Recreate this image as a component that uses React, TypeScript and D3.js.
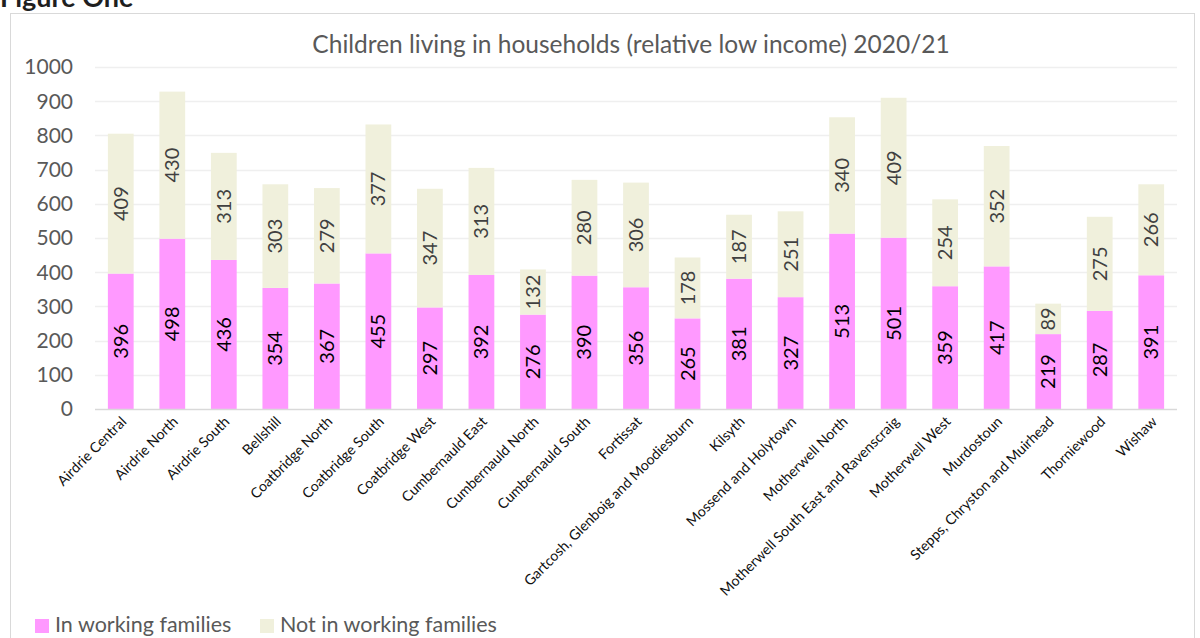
import React, { useEffect, useRef } from "react";
import * as d3 from "d3";

const categories = [
  "Airdrie Central", "Airdrie North", "Airdrie South", "Bellshill", "Coatbridge North",
  "Coatbridge South", "Coatbridge West", "Cumbernauld East", "Cumbernauld North",
  "Cumbernauld South", "Fortissat", "Gartcosh, Glenboig and Moodiesburn", "Kilsyth",
  "Mossend and Holytown", "Motherwell North", "Motherwell South East and Ravenscraig",
  "Motherwell West", "Murdostoun", "Stepps, Chryston and Muirhead", "Thorniewood", "Wishaw",
];
const inWorking = [396, 498, 436, 354, 367, 455, 297, 392, 276, 390, 356, 265, 381, 327, 513, 501, 359, 417, 219, 287, 391];
const notInWorking = [409, 430, 313, 303, 279, 377, 347, 313, 132, 280, 306, 178, 187, 251, 340, 409, 254, 352, 89, 275, 266];
const seriesNames = ["In working families", "Not in working families"];
const yTicks = [0, 100, 200, 300, 400, 500, 600, 700, 800, 900, 1000];
const title = "Children living in households (relative low income) 2020/21";

const W = 1200, H = 638;
const FONT = "Lato, 'Open Sans', sans-serif";
const colors = ["#FF99FF", "#F0F0DC"];
const labelColors = ["#000000", "#404040"];

export default function App() {
  const ref = useRef<SVGSVGElement | null>(null);
  useEffect(() => {
    document.body.style.margin = "0";
    const svg = d3.select(ref.current);
    svg.selectAll("*").remove();

    const x = d3.scaleBand().domain(categories).range([95, 1177]).paddingInner(0.5).paddingOuter(0.25);
    const y = d3.scaleLinear().domain([0, 1000]).range([409, 67]);

    // Figure One heading
    svg.append("text").attr("x", 0).attr("y", 7).attr("font-family", FONT).attr("font-weight", 700)
      .attr("font-size", 27).attr("fill", "#1f1f1f").text("Figure One");

    // chart border
    svg.append("rect").attr("x", 10.5).attr("y", 13.5).attr("width", 1184).attr("height", 640)
      .attr("fill", "#fff").attr("stroke", "#d9d9d9").attr("stroke-width", 1);

    // title
    svg.append("text").attr("x", 631).attr("y", 53).attr("text-anchor", "middle")
      .attr("font-family", FONT).attr("font-size", 24.5).attr("fill", "#595959").text(title);

    // gridlines
    svg.append("g").selectAll("line").data(yTicks.filter(d => d > 0)).join("line")
      .attr("x1", 95).attr("x2", 1177).attr("y1", d => Math.round(y(d)) + 0.5).attr("y2", d => Math.round(y(d)) + 0.5)
      .attr("stroke", "#efefef").attr("stroke-width", 1.5);

    // y labels
    svg.append("g").selectAll("text").data(yTicks).join("text")
      .attr("x", 73).attr("y", d => y(d)).attr("dy", "0.35em").attr("text-anchor", "end")
      .attr("font-family", FONT).attr("font-size", 21).attr("fill", "#595959").text(d => String(d));

    const stack = d3.stack<number>().keys(["0", "1"]).value((i, k) => (k === "0" ? inWorking[i] : notInWorking[i]));
    const stacked = stack(d3.range(categories.length));

    stacked.forEach((s, si) => {
      const g = svg.append("g");
      g.selectAll("rect").data(s).join("rect")
        .attr("x", (d, i) => x(categories[i])!)
        .attr("width", x.bandwidth())
        .attr("y", d => y(d[1]))
        .attr("height", d => y(d[0]) - y(d[1]))
        .attr("fill", colors[si]);
      g.selectAll("text").data(s).join("text")
        .attr("transform", (d, i) => `translate(${x(categories[i])! + x.bandwidth() / 2},${(y(d[0]) + y(d[1])) / 2}) rotate(-90)`)
        .attr("text-anchor", "middle").attr("dy", "0.35em")
        .attr("font-family", FONT).attr("font-size", 20).attr("fill", labelColors[si])
        .text(d => String(d[1] - d[0]));
    });

    // x axis line
    svg.append("line").attr("x1", 95).attr("x2", 1177).attr("y1", 409.5).attr("y2", 409.5)
      .attr("stroke", "#d9d9d9").attr("stroke-width", 1.5);

    // x labels
    svg.append("g").selectAll("text").data(categories).join("text")
      .attr("transform", d => `translate(${x(d)! + x.bandwidth() / 2 + 3},${419}) rotate(-45)`)
      .attr("text-anchor", "end").attr("dy", "0.35em")
      .attr("font-family", FONT).attr("font-size", 14.2).attr("fill", "#111").text(d => d);

    // legend
    const leg = svg.append("g");
    const legX = [35, 260];
    seriesNames.forEach((n, i) => {
      leg.append("rect").attr("x", legX[i]).attr("y", 619).attr("width", 14).attr("height", 14).attr("fill", colors[i]);
      leg.append("text").attr("x", legX[i] + 20).attr("y", 632)
        .attr("font-family", FONT).attr("font-size", 21.5).attr("fill", "#595959").text(n);
    });
  }, []);
  return <svg ref={ref} width={W} height={H} style={{ display: "block" }} />;
}
